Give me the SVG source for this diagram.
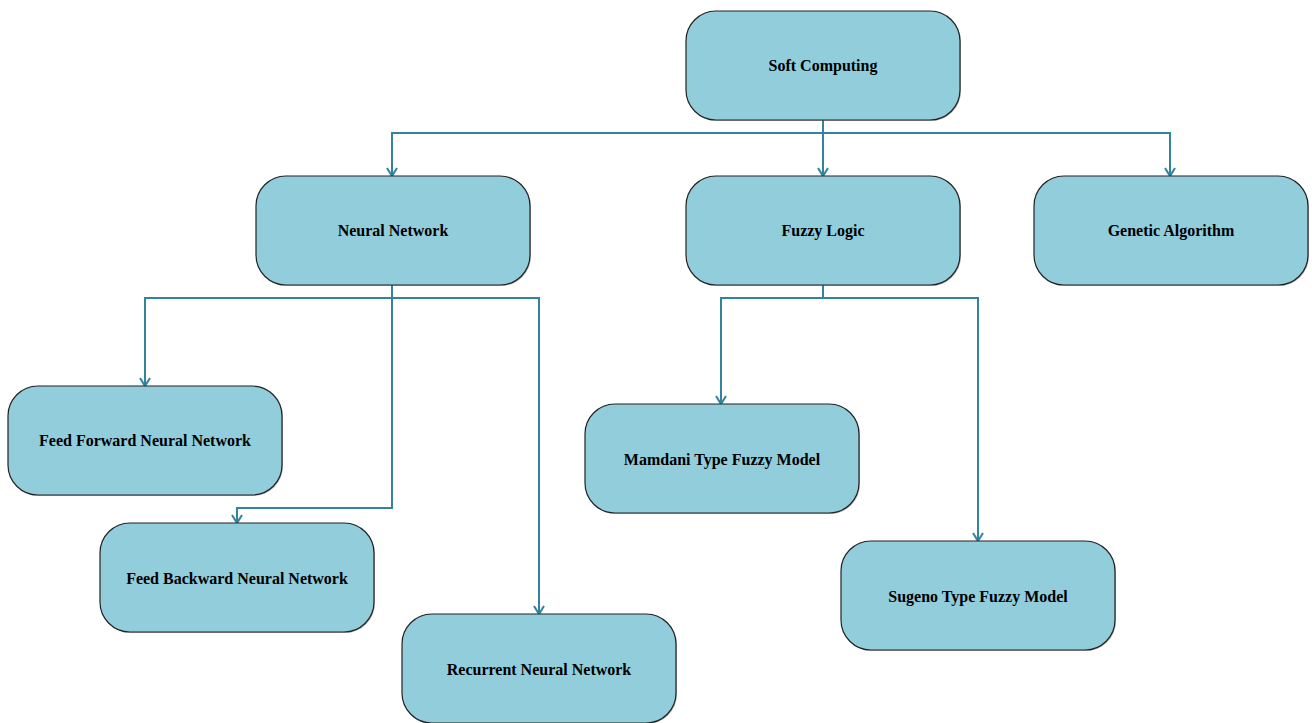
<svg xmlns="http://www.w3.org/2000/svg" width="1312" height="723" viewBox="0 0 1312 723">
  <style>
    .box { fill: #92CDDC; stroke: #222; stroke-width: 1.2; }
    .shadow { fill: #777; opacity: 0.55; }
    .label { font-family: "Liberation Serif", "Times New Roman", serif; font-weight: bold; font-size: 16px; fill: #000; text-anchor: middle; dominant-baseline: central; }
    .wire { fill: none; stroke: #31849B; stroke-width: 2; }
  </style>
  <defs>
    <marker id="arrow" viewBox="0 0 12 12" refX="10" refY="6" markerWidth="12" markerHeight="12" markerUnits="userSpaceOnUse" orient="auto-start-reverse">
      <path d="M2,1 L10,6 L2,11" fill="none" stroke="#31849B" stroke-width="2"/>
    </marker>
  </defs>

  <rect width="1312" height="723" fill="#fff"/>

  <g id="connectors">
    <path class="wire" d="M823,120 V133"/>
    <path class="wire" d="M392,176 V133 H1170 V176" marker-start="url(#arrow)" marker-end="url(#arrow)"/>
    <path class="wire" d="M823,133 V176" marker-end="url(#arrow)"/>

    <path class="wire" d="M392,285 V298"/>
    <path class="wire" d="M145,386 V298 H539 V614" marker-start="url(#arrow)" marker-end="url(#arrow)"/>
    <path class="wire" d="M392,298 V508 H237 V523" marker-end="url(#arrow)"/>

    <path class="wire" d="M823,285 V298"/>
    <path class="wire" d="M721,404 V298 H978 V541" marker-start="url(#arrow)" marker-end="url(#arrow)"/>
  </g>

  <g id="soft-computing">
    <rect class="shadow" x="687" y="12" width="274" height="109" rx="30"/>
    <rect class="box" x="686" y="11" width="274" height="109" rx="30"/>
    <text class="label" x="823" y="65">Soft Computing</text>
  </g>
  <g id="neural-network">
    <rect class="shadow" x="257" y="177" width="274" height="109" rx="30"/>
    <rect class="box" x="256" y="176" width="274" height="109" rx="30"/>
    <text class="label" x="393" y="230">Neural Network</text>
  </g>
  <g id="fuzzy-logic">
    <rect class="shadow" x="687" y="177" width="274" height="109" rx="30"/>
    <rect class="box" x="686" y="176" width="274" height="109" rx="30"/>
    <text class="label" x="823" y="230">Fuzzy Logic</text>
  </g>
  <g id="genetic-algorithm">
    <rect class="shadow" x="1035" y="177" width="274" height="109" rx="30"/>
    <rect class="box" x="1034" y="176" width="274" height="109" rx="30"/>
    <text class="label" x="1171" y="230">Genetic Algorithm</text>
  </g>
  <g id="feed-forward">
    <rect class="shadow" x="9" y="387" width="274" height="109" rx="30"/>
    <rect class="box" x="8" y="386" width="274" height="109" rx="30"/>
    <text class="label" x="145" y="440">Feed Forward Neural Network</text>
  </g>
  <g id="feed-backward">
    <rect class="shadow" x="101" y="524" width="274" height="109" rx="30"/>
    <rect class="box" x="100" y="523" width="274" height="109" rx="30"/>
    <text class="label" x="237" y="578">Feed Backward Neural Network</text>
  </g>
  <g id="recurrent">
    <rect class="shadow" x="403" y="615" width="274" height="109" rx="30"/>
    <rect class="box" x="402" y="614" width="274" height="109" rx="30"/>
    <text class="label" x="539" y="669">Recurrent Neural Network</text>
  </g>
  <g id="mamdani">
    <rect class="shadow" x="586" y="405" width="274" height="109" rx="30"/>
    <rect class="box" x="585" y="404" width="274" height="109" rx="30"/>
    <text class="label" x="722" y="459">Mamdani Type Fuzzy Model</text>
  </g>
  <g id="sugeno">
    <rect class="shadow" x="842" y="542" width="274" height="109" rx="30"/>
    <rect class="box" x="841" y="541" width="274" height="109" rx="30"/>
    <text class="label" x="978" y="596">Sugeno Type Fuzzy Model</text>
  </g>
</svg>
